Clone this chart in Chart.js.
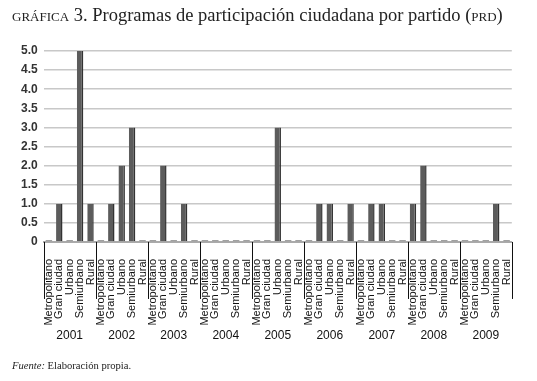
<!DOCTYPE html>
<html>
<head>
<meta charset="utf-8">
<script src="https://cdn.jsdelivr.net/npm/chart.js@4"></script>
<style>
  html, body { margin: 0; padding: 0; background: #fff; }
  #wrap { position: relative; width: 537px; height: 381px; overflow: hidden; }
  #title { position: absolute; left: 12px; top: 5px; font-family: "Liberation Serif", "DejaVu Serif", serif; font-size: 18.5px; color: #222; white-space: nowrap; }
  #title .sc { font-variant: small-caps; }
  #foot { position: absolute; left: 12px; top: 360px; font-family: "Liberation Serif", "DejaVu Serif", serif; font-size: 10.6px; color: #222; white-space: nowrap; }
  #c { position: absolute; left: 0; top: 0; }
</style>
</head>
<body>
<div id="wrap">
  <canvas id="c" width="537" height="381"></canvas>
  <div id="title"><span class="sc">gráfica 3.</span> Programas de participación ciudadana por partido (<span class="sc">prd</span>)</div>
  <div id="foot"><i>Fuente:</i> Elaboración propia.</div>
</div>
<script>
const years = ['2001','2002','2003','2004','2005','2006','2007','2008','2009'];
const types = ['Metropolitano','Gran ciudad','Urbano','Semiurbano','Rural'];
// values per year, in the order of `types`
const v2001 = [0, 1, 0, 5, 1];
const v2002 = [0, 1, 2, 3, 0];
const v2003 = [0, 2, 0, 1, 0];
const v2004 = [0, 0, 0, 0, 0];
const v2005 = [0, 0, 3, 0, 0];
const v2006 = [0, 1, 1, 0, 1];
const v2007 = [0, 1, 1, 0, 0];
const v2008 = [1, 2, 0, 0, 0];
const v2009 = [0, 0, 0, 1, 0];
const yTicks = [0, 0.5, 1, 1.5, 2, 2.5, 3, 3.5, 4, 4.5, 5];

const byYear = [v2001, v2002, v2003, v2004, v2005, v2006, v2007, v2008, v2009];
const labels = [];
const values = [];
years.forEach((y, i) => {
  types.forEach((t, j) => { labels.push(t); values.push(byYear[i][j]); });
});

const separators = {
  id: 'separators',
  afterDraw(chart) {
    const x2 = chart.scales.x2;
    const ca = chart.chartArea;
    const ctx = chart.ctx;
    ctx.save();
    ctx.strokeStyle = '#111';
    ctx.lineWidth = 1;
    for (let i = 0; i <= years.length; i++) {
      const px = Math.round(x2.getPixelForValue(i - 0.5)) + 0.5;
      ctx.beginPath();
      ctx.moveTo(px, ca.bottom);
      ctx.lineTo(px, ca.bottom + 57);
      ctx.stroke();
    }
    ctx.restore();
  }
};

new Chart(document.getElementById('c'), {
  type: 'bar',
  data: {
    labels: labels,
    datasets: [{
      data: values,
      backgroundColor: (ctx) => ctx.raw === 0 ? '#a0a0a0' : '#5c5c5c',
      borderColor: '#333',
      borderWidth: (ctx) => ctx.raw === 0 ? 0 : { right: 1.5, left: 0, top: 0, bottom: 0 },
      borderSkipped: false,
      minBarLength: 2,
      barPercentage: 0.62,
      categoryPercentage: 1.0,
      xAxisID: 'x'
    }]
  },
  options: {
    responsive: false,
    animation: false,
    events: [],
    layout: { padding: { top: 51, left: 15, right: 17, bottom: 38 } },
    plugins: { legend: { display: false }, tooltip: { enabled: false }, title: { display: false } },
    scales: {
      y: {
        min: 0, max: 5,
        afterBuildTicks: (s) => { s.ticks = yTicks.map(v => ({ value: v })); },
        ticks: {
          font: { family: 'Liberation Sans, Arial, sans-serif', size: 12, weight: 'bold' },
          color: '#333',
          padding: 6,
          callback: (v) => v === 0 ? '0' : Number(v).toFixed(1)
        },
        grid: { color: '#c8c8c8', lineWidth: 1.5, drawTicks: false },
        border: { display: false }
      },
      x: {
        type: 'category',
        position: 'bottom',
        afterFit: (s) => { s.height -= 14; },
        ticks: {
          autoSkip: false, minRotation: 90, maxRotation: 90,
          font: { family: 'Liberation Sans, Arial, sans-serif', size: 11 },
          color: '#111', padding: 17
        },
        grid: { display: false, drawTicks: false },
        border: { display: true, color: '#aaa', width: 2 }
      },
      x2: {
        type: 'category',
        position: 'bottom',
        labels: years,
        offset: true,
        ticks: {
          font: { family: 'Liberation Sans, Arial, sans-serif', size: 12 },
          color: '#111', padding: 0
        },
        grid: { display: false, drawTicks: false },
        border: { display: false }
      }
    }
  },
  plugins: [separators]
});
</script>
</body>
</html>
